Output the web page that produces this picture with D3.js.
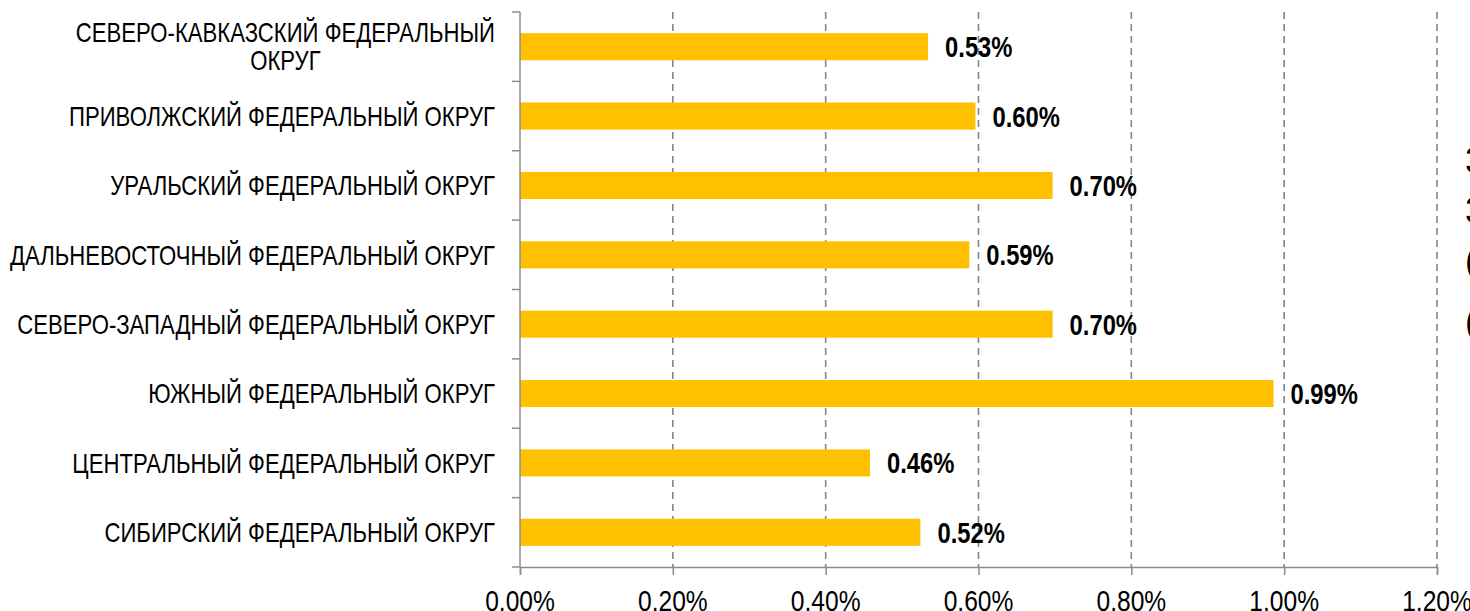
<!DOCTYPE html>
<html>
<head>
<meta charset="utf-8">
<script src="https://cdn.jsdelivr.net/npm/d3@7"></script>
<style>
  body { margin: 0; background: #fff; overflow: hidden; }
  svg { display: block; }
  text { font-family: "Liberation Sans", Arial, sans-serif; fill: #000; }
</style>
</head>
<body>
<div id="content"></div>
<script>
// categories, top to bottom
var regions = [
  ['СЕВЕРО-КАВКАЗСКИЙ ФЕДЕРАЛЬНЫЙ', 'ОКРУГ'],
  ['ПРИВОЛЖСКИЙ ФЕДЕРАЛЬНЫЙ ОКРУГ'],
  ['УРАЛЬСКИЙ ФЕДЕРАЛЬНЫЙ ОКРУГ'],
  ['ДАЛЬНЕВОСТОЧНЫЙ ФЕДЕРАЛЬНЫЙ ОКРУГ'],
  ['СЕВЕРО-ЗАПАДНЫЙ ФЕДЕРАЛЬНЫЙ ОКРУГ'],
  ['ЮЖНЫЙ ФЕДЕРАЛЬНЫЙ ОКРУГ'],
  ['ЦЕНТРАЛЬНЫЙ ФЕДЕРАЛЬНЫЙ ОКРУГ'],
  ['СИБИРСКИЙ ФЕДЕРАЛЬНЫЙ ОКРУГ']
];
// share, %
var shares = [0.534, 0.596, 0.697, 0.588, 0.697, 0.986, 0.458, 0.524];
var xTicks = [0, 0.2, 0.4, 0.6, 0.8, 1.0, 1.2];
// clipped text at the right edge of the original
var sideText = ['3', '3', '(', '('];

var width = 1470,
    height = 611;
var plotLeft = 520, plotRight = 1437, plotTop = 12, plotBottom = 567;
var narrow = 0.82;   // fake a narrow font by squeezing Liberation Sans

var svg = d3.select('#content').append('svg')
  .attr('width', width)
  .attr('height', height);

var x = d3.scaleLinear().domain([0, 1.2]).range([plotLeft, plotRight]);
var y = d3.scaleBand().domain(d3.range(regions.length))
  .range([plotTop, plotBottom]).paddingInner(0.61).paddingOuter(0.305);
var step = y.step();

function fmt(d) { return d.toFixed(2) + '%'; }

// dashed gridlines
svg.append('g').selectAll('line')
  .data(xTicks.slice(1))
  .enter().append('line')
    .attr('x1', function(d) { return x(d); })
    .attr('x2', function(d) { return x(d); })
    .attr('y1', plotTop)
    .attr('y2', plotBottom)
    .style('stroke', '#858585')
    .style('stroke-width', 1.6)
    .style('stroke-dasharray', '7,5');

// bars
svg.append('g').selectAll('rect')
  .data(shares)
  .enter().append('rect')
    .attr('x', x(0))
    .attr('y', function(d, i) { return y(i); })
    .attr('width', function(d) { return x(d) - x(0); })
    .attr('height', y.bandwidth())
    .style('fill', '#FFC000');

// x axis (labels squeezed afterwards)
var xAxis = svg.append('g')
  .attr('transform', 'translate(0,' + plotBottom + ')')
  .call(d3.axisBottom(x).tickValues(xTicks).tickSize(8).tickFormat(''));
xAxis.select('.domain').style('stroke', '#8c8c8c').style('stroke-width', 1.5);
xAxis.selectAll('.tick line').style('stroke', '#8c8c8c').style('stroke-width', 1.5);

svg.append('g').selectAll('g')
  .data(xTicks)
  .enter().append('g')
    .attr('transform', function(d) { return 'translate(' + x(d) + ',' + 600 + ') scale(' + narrow + ',1)'; })
  .append('text')
    .attr('text-anchor', 'middle')
    .attr('dy', '0.36em')
    .style('font-size', '30px')
    .text(fmt);

// y axis with ticks between categories
svg.append('line')
  .attr('x1', plotLeft).attr('x2', plotLeft)
  .attr('y1', plotTop).attr('y2', plotBottom)
  .style('stroke', '#8c8c8c').style('stroke-width', 1.5);
svg.append('g').selectAll('line')
  .data(d3.range(regions.length + 1))
  .enter().append('line')
    .attr('x1', plotLeft - 8).attr('x2', plotLeft)
    .attr('y1', function(i) { return plotTop + i * step; })
    .attr('y2', function(i) { return plotTop + i * step; })
    .style('stroke', '#8c8c8c').style('stroke-width', 1.5);

// category labels, right aligned; wrapped ones centred on the block
var lineH = 28;
var labelRight = 495;
svg.append('g').selectAll('g')
  .data(regions)
  .enter().append('g')
    .attr('transform', function(lines, i) {
      return 'translate(' + labelRight + ',' + (y(i) + y.bandwidth() / 2) + ') scale(' + narrow + ',1)';
    })
  .append('text')
    .style('font-size', '27px')
    .each(function(lines) {
      var t = d3.select(this);
      var y0 = -(lines.length - 1) * lineH / 2;
      t.attr('text-anchor', lines.length > 1 ? 'middle' : 'end');
      t.selectAll('tspan')
        .data(lines)
        .enter().append('tspan')
          .attr('x', 0)
          .attr('y', function(d, k) { return y0 + k * lineH; })
          .attr('dy', '0.36em')
          .text(function(d) { return d; });
      if (lines.length > 1) {
        // centre the wrapped block under its widest line, ending at labelRight
        var w = t.node().getBBox().width;
        t.selectAll('tspan').attr('x', -w / 2);
      }
    });

// value labels
svg.append('g').selectAll('g')
  .data(shares)
  .enter().append('g')
    .attr('transform', function(d, i) {
      return 'translate(' + (x(d) + 17) + ',' + (y(i) + y.bandwidth() / 2) + ') scale(' + narrow + ',1)';
    })
  .append('text')
    .attr('dy', '0.36em')
    .style('font-size', '29px')
    .style('font-weight', 'bold')
    .text(fmt);

// side text, mostly beyond the edge
svg.append('g').selectAll('text')
  .data(sideText)
  .enter().append('text')
    .attr('x', 1465)
    .attr('y', function(d, i) { return [173, 223, 273, 334][i]; })
    .style('font-size', '36px')
    .text(function(d) { return d; });
</script>
</body>
</html>
